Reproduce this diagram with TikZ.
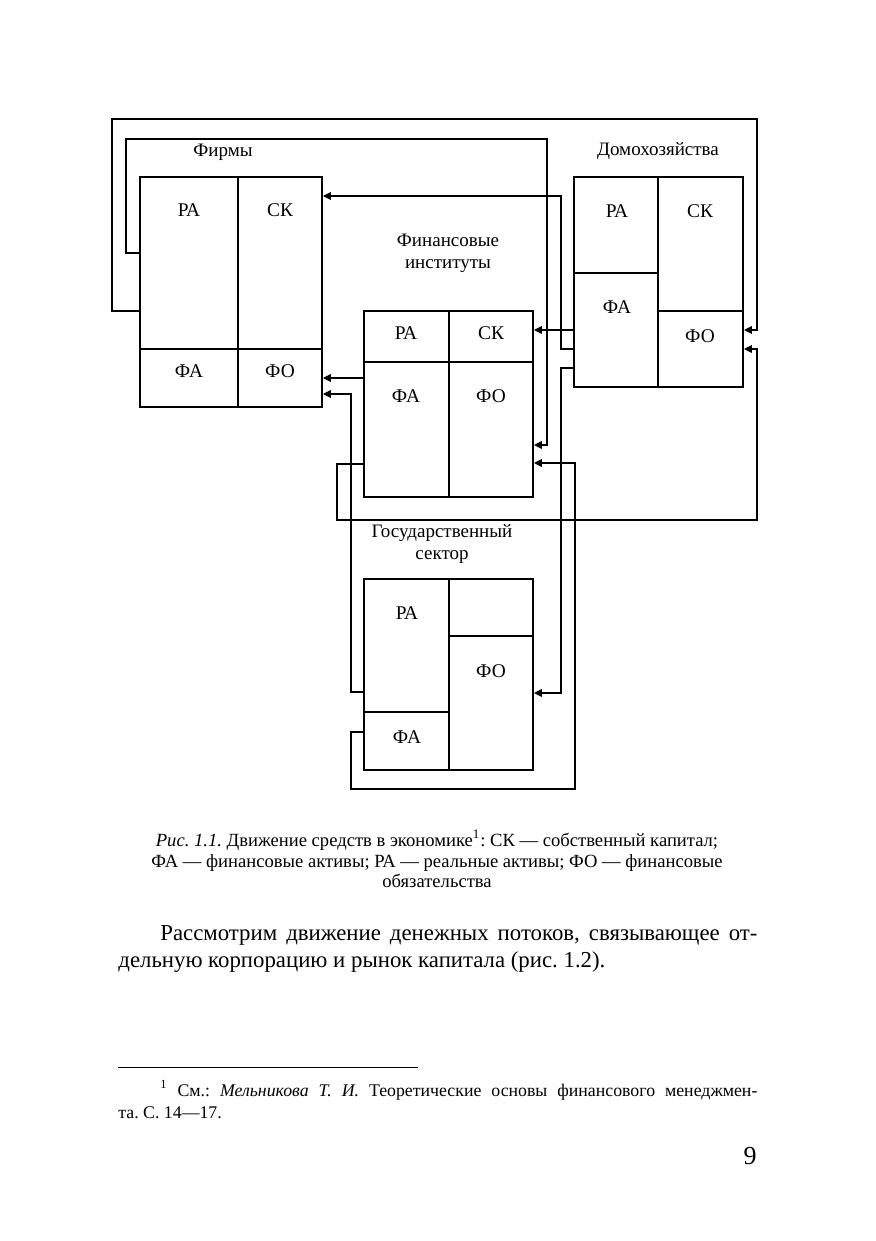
\documentclass[tikz,border=0pt]{standalone}
\usepackage{fontspec}
\setmainfont{Liberation Serif}
\usetikzlibrary{arrows.meta, fit}
\frenchspacing

\begin{document}
\begin{tikzpicture}[
    x=0.5pt, y=-0.5pt, % one unit = one pixel of the page, y runs down
    >={Triangle[length=4pt,width=3.8pt]},
    cell/.style={draw, line width=0.9pt, inner sep=0pt},
    flow/.style={line width=0.9pt},
    lbl/.style={font=\fontsize{9.7}{10.5}\selectfont, inner sep=0pt},
    head/.style={font=\fontsize{9.5}{11}\selectfont, align=center, inner sep=0pt},
    capt/.style={font=\fontsize{9.3}{10.5}\selectfont, inner sep=0pt, anchor=base},
    body/.style={font=\fontsize{11.4}{13}\selectfont, inner sep=0pt, anchor=base west},
    note/.style={font=\fontsize{8.9}{11}\selectfont, inner sep=0pt, anchor=base west}
]

% --- Page (fixes the margins) ---
\path[fill=white, use as bounding box] (0,0) rectangle (875,1241);

% --- Cells of the four balance sheets ---
\foreach \name/\xa/\ya/\xb/\yb in {
    firmRA/140/177/238/349, firmSK/238/177/322/349,
    firmFA/140/349/238/407, firmFO/238/349/322/407,
    finRA/364/311/449/362, finSK/449/311/533/362,
    finFA/364/362/449/497, finFO/449/362/533/497,
    hhRA/574/177/658/273, hhFA/574/273/658/387,
    hhSK/658/177/743/311, hhFO/658/311/743/387,
    govRA/364/579/449/712, govFA/364/712/449/770,
    govTop/449/579/533/636, govFO/449/636/533/770}
{
    \node[cell, fit={(\xa,\ya) (\xb,\yb)}] (\name) {};
}

% --- Labels inside the cells ---
\foreach \name/\x/\y/\txt in {
    tFirmRA/189/210/РА, tFirmSK/280/210/СК, tFirmFA/189/371/ФА, tFirmFO/280/371/ФО,
    tFinRA/406/333/РА, tFinSK/491/333/СК, tFinFA/406/396/ФА, tFinFO/491/396/ФО,
    tHhRA/617/211/РА, tHhSK/700/211/СК, tHhFA/617/307/ФА, tHhFO/700/336/ФО,
    tGovRA/407/613/РА, tGovFO/491/671/ФО, tGovFA/407/737/ФА}
{
    \node[lbl] (\name) at (\x,\y) {\txt};
}

% --- Sector names ---
\node[head] (firms) at (223,152) {Фирмы};
\node[head] (households) at (658,151) {Домохозяйства};
\node[head] (institutes) at (448,253) {Финансовые\\институты};
\node[head] (government) at (442,544) {Государственный\\сектор};

% --- Bends of the connectors ---
\coordinate (a1) at (112,311);
\coordinate (a2) at (757,119);
\coordinate (a3) at (757,330);
\coordinate (b1) at (126,253);
\coordinate (b2) at (547,139);
\coordinate (b3) at (547,445);
\coordinate (c1) at (561,349);
\coordinate (c2) at (561,196);
\coordinate (d1) at (561,368);
\coordinate (d2) at (561,693);
\coordinate (e1) at (337,464);
\coordinate (e2) at (757,520);
\coordinate (g1) at (351,692);
\coordinate (g2) at (351,394);
\coordinate (h1) at (351,732);
\coordinate (h2) at (575,789);
\coordinate (h3) at (575,463);

% --- Flows between the sectors ---
\draw[flow, ->] (firmRA.west |- a1) -- (a1) |- (a2) -- (a3) -- (hhFO.east |- a3);
\draw[flow, ->] (firmRA.west |- b1) -- (b1) |- (b2) -- (b3) -- (finFO.east |- b3);
\draw[flow, ->] (hhFA.west |- c1) -- (c1) -- (c2) -- (firmSK.east |- c2);
\draw[flow, ->] (hhFA.west) -- (finSK.east |- hhFA.west);
\draw[flow, ->] (hhFA.west |- d1) -- (d1) -- (d2) -- (govFO.east |- d2);
\draw[flow, ->] (finFA.west |- e1) -- (e1) |- (e2) |- (hhFO.east);
\draw[flow, ->] (finFA.west |- firmFO.east) -- (firmFO.east);
\draw[flow, ->] (govRA.west |- g1) -- (g1) -- (g2) -- (firmFO.east |- g2);
\draw[flow, ->] (govFA.west |- h1) -- (h1) |- (h2) -- (h3) -- (finFO.east |- h3);

% --- Caption ---
\node[capt] (cap1) at (437,846) {\textit{Рис. 1.1.} Движение средств в экономике\textsuperscript{1}: СК — собственный капитал;};
\node[capt] (cap2) at (437,867) {ФА — финансовые активы; РА — реальные активы; ФО — финансовые};
\node[capt] (cap3) at (437,887) {обязательства};

% --- Running text ---
\node[body] (text1) at (160,940) {\makebox[298.5pt][s]{Рассмотрим движение денежных потоков, связывающее от-}};
\node[body] (text2) at (118,967) {дельную корпорацию и рынок капитала (рис. 1.2).};

% --- Footnote and page number ---
\draw[line width=0.5pt] (118,1067) -- (418,1067);
\node[note] (note1) at (160,1096) {\makebox[298.5pt][s]{\textsuperscript{1} См.: \textit{Мельникова Т. И.} Теоретические основы финансового менеджмен-}};
\node[note] (note2) at (118,1118) {та. С. 14—17.};
\node[body, font=\fontsize{13}{14}\selectfont, anchor=base east] (page) at (757,1164) {9};

\end{tikzpicture}
\end{document}
